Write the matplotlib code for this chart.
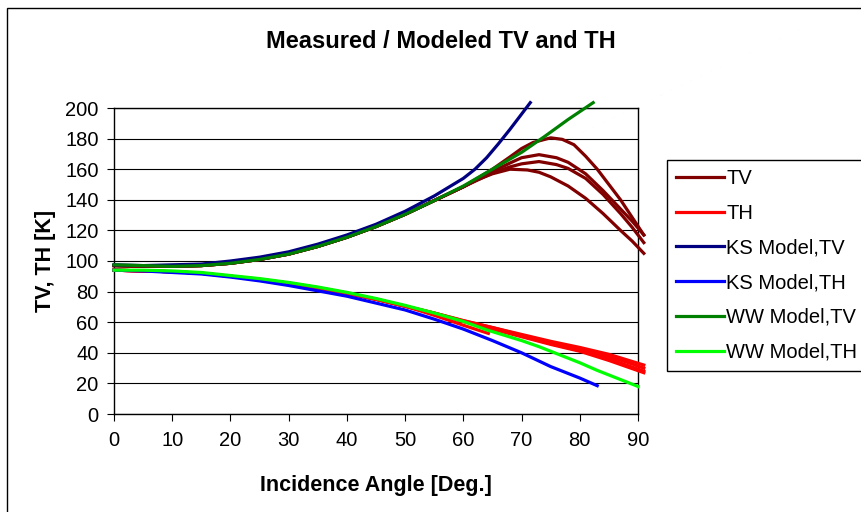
import matplotlib.pyplot as plt
from matplotlib.patches import Rectangle

plt.rcParams['font.family'] = ['Liberation Sans', 'DejaVu Sans']

# measured TV (four passes); they share the same values up to 60 deg
tv_common_ang = [0, 5, 10, 15, 20, 25, 30, 35, 40, 45, 50, 55, 60]
tv_common = [97, 96.5, 96.5, 97, 98.5, 101, 104.5, 109.5, 115.5, 122.5, 130.5, 139.5, 148.5]

tv_a_ang = [65, 68, 70, 72, 75, 77, 79, 81, 83, 85, 87, 89, 91]
tv_a = [160, 168, 173.5, 177.5, 180.5, 179.5, 176, 168.5, 160, 150, 140, 128.5, 117]
tv_b_ang = [65, 68, 70, 73, 76, 78, 81, 84, 87, 89, 91]
tv_b = [158.5, 164, 167.5, 169.5, 167.5, 164.5, 157, 146, 134, 126, 117]
tv_c_ang = [65, 68, 70, 73, 76, 78, 81, 84, 87, 89, 91]
tv_c = [157.5, 161.5, 163.5, 165, 163, 160.5, 154, 143.5, 131, 122, 112]
tv_d_ang = [62, 65, 68, 71, 73, 75, 78, 81, 84, 87, 89, 91]
tv_d = [152.5, 157, 160, 159.5, 158, 155, 149, 141, 131, 120, 113, 105]

# measured TH
th_common_ang = [0, 5, 10, 15, 20, 25, 30, 35, 40, 45, 50]
th_common = [94, 93.5, 93, 92, 90, 88, 85.5, 82.5, 79, 75, 70.5]

th_1_ang = [55, 60, 65, 70, 75, 80, 85, 88, 91]
th_1 = [66, 61, 56.5, 52, 47.5, 43.5, 39, 35.5, 32]
th_2_ang = [55, 60, 65, 70, 75, 80, 85, 88, 91]
th_2 = [66, 61, 56.5, 51.5, 47, 42.5, 37.5, 34, 30]
th_3_ang = [55, 60, 65, 70, 75, 80, 85, 88, 91]
th_3 = [65.5, 60.5, 56, 51, 46, 41.5, 36, 32, 28]
th_4_ang = [55, 60, 65, 70, 75, 80, 85, 88, 91]
th_4 = [65.5, 60.5, 55.5, 50.5, 45.5, 41, 35, 31, 27]
th_5_ang = [55, 60, 64.3]
th_5 = [64.5, 58, 52.7]

# KS model
ks_tv_ang = [0, 5, 10, 15, 20, 25, 30, 35, 40, 45, 50, 55, 60, 62, 64, 66, 68, 70, 71.5]
ks_tv = [97.5, 97, 97.5, 98, 100, 102.5, 106, 111, 117, 124, 132.5, 142.5, 154, 160, 167.5, 176.5, 186, 196, 203.5]
ks_th_ang = [0, 5, 10, 15, 20, 25, 30, 35, 40, 45, 50, 55, 60, 65, 70, 75, 80, 83]
ks_th = [94, 93.5, 92.5, 91.5, 89.5, 87, 84, 80.5, 77, 72.5, 68, 62, 55.5, 48, 40, 31, 23.5, 18.5]

# WW model
ww_tv_ang = [0, 5, 10, 15, 20, 25, 30, 35, 40, 45, 50, 55, 60, 65, 70, 74, 78, 82.3]
ww_tv = [97.5, 97, 96.5, 97, 98.5, 101, 104.5, 109.5, 115.5, 122.5, 130.5, 139.5, 149, 160, 171, 181.5, 192.5, 203.5]
ww_th_ang = [0, 5, 10, 15, 20, 25, 30, 35, 40, 45, 50, 55, 60, 64, 70, 73, 76, 80, 83, 86, 89, 90]
ww_th = [94, 94, 93.5, 92.5, 90.5, 88.5, 86, 83, 79.5, 75.5, 71, 66, 60.5, 55, 48, 44, 39.5, 33.5, 28.5, 24, 19.5, 18]

c_tv = '#800000'
c_th = '#ff0000'
c_ks_tv = '#000080'
c_ks_th = '#0000ff'
c_ww_tv = '#008000'
c_ww_th = '#00ff00'
lw = 2.3

fig = plt.figure(figsize=(8.61, 5.12), dpi=100)
fig.patches.append(Rectangle((7 / 861, -0.1), 1.2, 1.1 - 8 / 512, transform=fig.transFigure,
                             fill=False, edgecolor='black', linewidth=1))

ax = fig.add_axes([114 / 861, 1 - 414 / 512, 524 / 861, 306 / 512])


def joined(a0, v0, a1, v1):
    return a0 + a1, v0 + v1


handles = {}
for ang, val in [(tv_a_ang, tv_a), (tv_b_ang, tv_b), (tv_c_ang, tv_c), (tv_d_ang, tv_d)]:
    x, y = joined(tv_common_ang, tv_common, ang, val)
    handles['TV'], = ax.plot(x, y, color=c_tv, lw=lw, clip_on=False, zorder=3)
for ang, val in [(th_1_ang, th_1), (th_2_ang, th_2), (th_3_ang, th_3), (th_4_ang, th_4), (th_5_ang, th_5)]:
    x, y = joined(th_common_ang, th_common, ang, val)
    handles['TH'], = ax.plot(x, y, color=c_th, lw=lw, clip_on=False, zorder=3)

handles['KS Model,TV'], = ax.plot(ks_tv_ang, ks_tv, color=c_ks_tv, lw=lw, clip_on=False, zorder=4)
handles['KS Model,TH'], = ax.plot(ks_th_ang, ks_th, color=c_ks_th, lw=lw, clip_on=False, zorder=4)
handles['WW Model,TV'], = ax.plot(ww_tv_ang, ww_tv, color=c_ww_tv, lw=lw, clip_on=False, zorder=5)
handles['WW Model,TH'], = ax.plot(ww_th_ang, ww_th, color=c_ww_th, lw=lw, clip_on=False, zorder=5)

ax.set_xlim(0, 90)
ax.set_ylim(0, 200)
ax.set_xticks(range(0, 91, 10))
ax.set_yticks(range(0, 201, 20))
ax.yaxis.grid(True, color='black', linewidth=0.8)
ax.set_axisbelow(True)
for s in ax.spines.values():
    s.set_color('black')
    s.set_linewidth(1.0)
ax.tick_params(axis='both', direction='out', length=5, width=0.8, labelsize=14.5, colors='black')
ax.tick_params(axis='x', pad=7)
ax.tick_params(axis='y', pad=6)

ax.set_xlabel('Incidence Angle [Deg.]', fontsize=15.5, fontweight='bold', labelpad=18)
ax.set_ylabel('TV, TH [K]', fontsize=15.5, fontweight='bold', labelpad=7)
fig.text(441 / 861, 1 - 42 / 512, 'Measured / Modeled TV and TH', fontsize=17,
         fontweight='bold', ha='center', va='center')

labels = ['TV', 'TH', 'KS Model,TV', 'KS Model,TH', 'WW Model,TV', 'WW Model,TH']
leg = fig.legend([handles[k] for k in labels], labels, loc='upper left',
                 bbox_to_anchor=(667 / 861, 1 - 160 / 512), fontsize=14.5,
                 frameon=True, fancybox=False, edgecolor='black', framealpha=1,
                 handlelength=2.4, handletextpad=0.1, labelspacing=0.78,
                 borderpad=0.45, borderaxespad=0)
leg.get_frame().set_linewidth(1.0)

fig.savefig('out.png', dpi=100)
